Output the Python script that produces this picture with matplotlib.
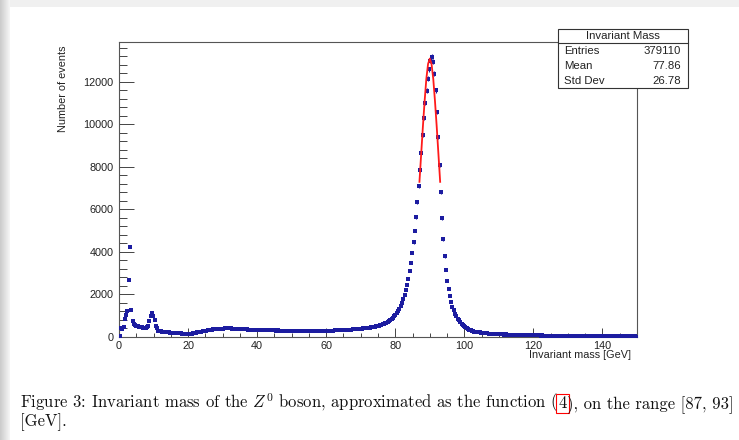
import numpy as np
import matplotlib
matplotlib.use("Agg")
import matplotlib.pyplot as plt
from matplotlib.patches import Rectangle
from matplotlib.lines import Line2D
from matplotlib.ticker import MultipleLocator

plt.rcParams['font.family'] = ['Liberation Sans', 'DejaVu Sans']
plt.rcParams['mathtext.fontset'] = 'cm'

# histogram, 400 bins between 0 and 150 GeV
mass_min = 0.0
mass_max = 150.0
counts = [
    60, 420, 380, 480, 870, 1020, 1200, 2700,
    4250, 1250, 760, 620, 560, 520, 505, 480,
    465, 450, 440, 428, 442, 465, 530, 730,
    1010, 1140, 980, 820, 530, 420, 305, 270,
    262, 248, 243, 231, 228, 219, 216, 207,
    204, 197, 193, 185, 181, 174, 173, 166,
    163, 156, 152, 144, 143, 139, 146, 149,
    161, 173, 192, 203, 222, 233, 247, 253,
    267, 278, 293, 298, 317, 323, 338, 343,
    356, 360, 372, 373, 382, 384, 392, 390,
    399, 401, 407, 406, 411, 403, 404, 398,
    396, 388, 387, 378, 377, 368, 370, 363,
    362, 356, 357, 350, 352, 346, 347, 340,
    342, 336, 337, 331, 332, 326, 328, 323,
    325, 318, 320, 314, 317, 311, 314, 308,
    310, 304, 307, 301, 304, 298, 301, 296,
    299, 294, 297, 292, 295, 290, 293, 288,
    291, 286, 290, 285, 288, 284, 287, 283,
    286, 282, 286, 283, 287, 284, 289, 286,
    291, 288, 293, 291, 297, 294, 300, 298,
    297, 295, 301, 299, 305, 303, 309, 308,
    314, 313, 320, 319, 326, 325, 332, 333,
    339, 340, 347, 348, 355, 357, 365, 367,
    375, 378, 387, 391, 401, 405, 416, 422,
    434, 441, 454, 462, 477, 487, 504, 516,
    535, 550, 573, 592, 619, 644, 678, 709,
    752, 793, 847, 899, 967, 1038, 1122, 1208,
    1322, 1448, 1602, 1768, 1972, 2198, 2462, 2748,
    3102, 3497, 3953, 4448, 5003, 5647, 6352, 7098,
    7853, 8648, 9503, 10297, 11004, 11596, 12153, 12598,
    13003, 13196, 12954, 12397, 11603, 10597, 9404, 8097,
    6804, 5597, 4603, 3797, 3153, 2648, 2252, 1918,
    1652, 1428, 1253, 1098, 977, 868, 782, 698,
    632, 568, 517, 463, 422, 380, 350, 316,
    294, 270, 257, 238, 230, 216, 212, 200,
    197, 186, 184, 174, 172, 163, 162, 153,
    152, 144, 144, 136, 137, 129, 130, 123,
    124, 117, 118, 112, 113, 107, 109, 103,
    105, 99, 101, 95, 97, 92, 94, 88,
    91, 85, 88, 82, 85, 79, 82, 77,
    79, 74, 77, 72, 74, 69, 72, 67,
    70, 65, 68, 63, 66, 61, 64, 59,
    62, 57, 60, 55, 58, 54, 57, 52,
    55, 50, 54, 49, 52, 47, 51, 46,
    49, 45, 48, 43, 47, 42, 45, 41,
    44, 40, 43, 38, 42, 37, 41, 36,
    40, 35, 39, 34, 38, 33, 37, 32,
    36, 31, 35, 30, 34, 29, 33, 29,
    32, 28, 31, 27, 31, 26, 30, 26,
    29, 25, 28, 24, 28, 23, 27, 23,
]

# fit curve on [87, 93]
fit_mass = [87.0, 87.5, 88.0, 88.5, 89.0, 89.5, 90.0, 90.5, 91.0, 91.5, 92.0, 92.5, 93.0]
fit_val = [7300, 8600, 9900, 11100, 12150, 12850, 13100, 12850, 12150, 11100, 9900, 8600, 7300]

stat_names = ['Entries', 'Mean', 'Std Dev']
stat_vals = ['379110', '77.86', '26.78']

W, H = 739, 440
fig = plt.figure(figsize=(W / 100, H / 100), dpi=100)

def fx(x):
    return x / W

def fy(y):
    return 1 - y / H

# page shadow of the screenshot
bg = fig.add_axes([0, 0, 1, 1])
bg.set_axis_off()
img = np.ones((H, W, 3))
img[:7, :, :] = 0.945
shade = np.linspace(0.80, 0.96, 10)
img[:, :10, :] = shade[None, :, None]
bg.imshow(img, aspect='auto', interpolation='bilinear')

ax = fig.add_axes([fx(119), fy(337), (637 - 119) / W, (337 - 42) / H])
ax.set_facecolor('white')

nb = len(counts)
width = (mass_max - mass_min) / nb
centers = mass_min + (np.arange(nb) + 0.5) * width
cnt = np.array(counts, dtype=float)
blue = '#1c1ca0'
ax.errorbar(centers, cnt, yerr=np.sqrt(cnt), fmt='s', ms=2.4, mew=0,
            color=blue, ecolor=blue, elinewidth=0.8, capsize=0, zorder=3)
ax.plot(fit_mass, fit_val, color='#ff1a1a', lw=1.3, zorder=4)

ax.set_xlim(0, 150)
ax.set_ylim(0, 13880)
ax.xaxis.set_major_locator(MultipleLocator(20))
ax.xaxis.set_minor_locator(MultipleLocator(5))
ax.yaxis.set_major_locator(MultipleLocator(2000))
ax.yaxis.set_minor_locator(MultipleLocator(400))
ax.tick_params(which='both', direction='in', top=False, right=False,
               colors='#444444', labelcolor='#222222', labelsize=7.8)
ax.tick_params(axis='y', which='major', length=10.8, width=0.7, pad=4)
ax.tick_params(axis='y', which='minor', length=5.4, width=0.7)
ax.tick_params(axis='x', which='major', length=6.5, width=0.7, pad=3)
ax.tick_params(axis='x', which='minor', length=3.2, width=0.7)
for s in ax.spines.values():
    s.set_color('#555555')
    s.set_linewidth(0.8)

fig.text(fx(631), fy(355), 'Invariant mass [GeV]', ha='right', va='center',
         fontsize=7.8, color='#222222')
fig.text(fx(63), fy(46), 'Number of events', rotation=90, ha='center', va='top',
         fontsize=7.8, color='#222222')

# stats box
fig.add_artist(Rectangle((fx(558), fy(88)), 130 / W, 59 / H, transform=fig.transFigure,
                         facecolor='white', edgecolor='#333333', lw=0.8, zorder=5))
fig.add_artist(Line2D([fx(558), fx(688)], [fy(43), fy(43)], transform=fig.transFigure,
                      color='#333333', lw=0.8, zorder=6))
fig.text(fx(623), fy(36), 'Invariant Mass', ha='center', va='center',
         fontsize=8.2, color='#222222', zorder=7)
for i, (n, v) in enumerate(zip(stat_names, stat_vals)):
    yy = 50.5 + 15 * i
    fig.text(fx(564), fy(yy), n, ha='left', va='center', fontsize=8.2, color='#222222', zorder=7)
    fig.text(fx(681), fy(yy), v, ha='right', va='center', fontsize=8.2, color='#222222', zorder=7)

# caption
fs = 12.0
cap = dict(fontfamily='cmr10', fontsize=fs, va='baseline', color='#111111')
renderer = fig.canvas.get_renderer()
t1 = fig.text(fx(20), fy(408), 'Figure 3: Invariant mass of the $Z^0$ boson, approximated as the function (', **cap)
bb = t1.get_window_extent(renderer)
t2 = fig.text(bb.x1 / W, fy(408), '4', bbox=dict(boxstyle='square,pad=0.12', fc='none', ec='#ff0000', lw=0.8), **cap)
bb2 = t2.get_window_extent(renderer)
fig.text(bb2.x1 / W, fy(408), '), on the range [87, 93]', **cap)
fig.text(fx(20), fy(426), '[GeV].', **cap)

fig.savefig('out.png', dpi=100)
